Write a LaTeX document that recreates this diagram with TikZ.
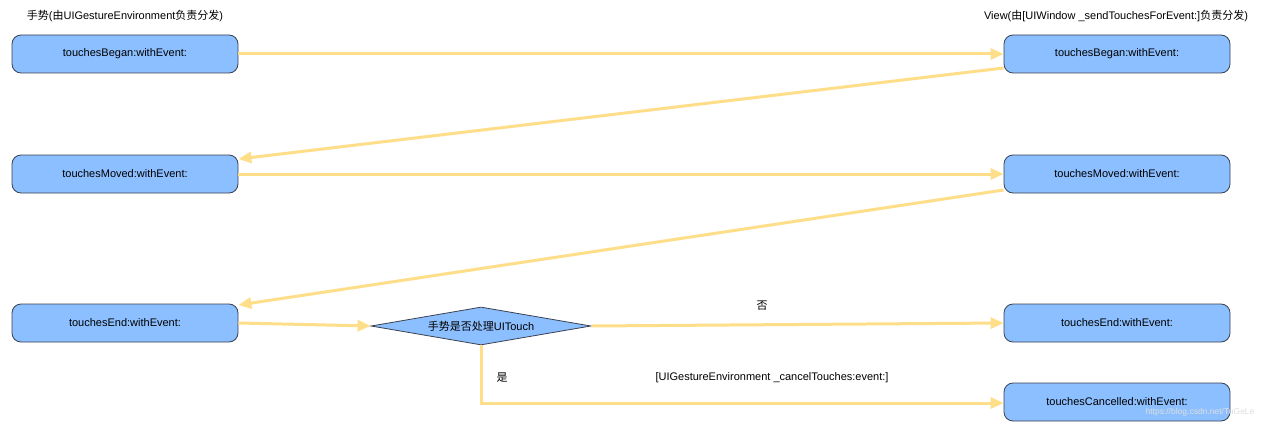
\documentclass[tikz,border=0pt]{standalone}
\usepackage{fontspec}
\setmainfont{Liberation Sans}
\newfontfamily\cjkf{Noto Sans CJK SC}
\newcommand\zh[1]{{\cjkf #1}}
\usetikzlibrary{arrows.meta,shapes.geometric}
\definecolor{boxfill}{HTML}{8CBFFF}
\definecolor{boxline}{HTML}{3A4150}
\definecolor{arr}{HTML}{FFDE8A}
\tikzset{
  box/.style={draw=boxline, line width=0.8pt, fill=boxfill, rounded corners=9pt,
    minimum width=226pt, minimum height=38pt, inner sep=0pt, font=\fontsize{11}{13}\selectfont},
  decide/.style={draw=boxline, line width=0.8pt, fill=boxfill, diamond, aspect=5.8,
    minimum width=220pt, minimum height=38pt, inner sep=0pt, font=\fontsize{11}{13}\selectfont},
  flow/.style={draw=arr, line width=3pt, -{Triangle[length=13pt,width=11pt]}},
  lbl/.style={font=\fontsize{11}{13}\selectfont, inner sep=0pt}
}
\begin{document}
\begin{tikzpicture}[x=1pt,y=-1pt]
\useasboundingbox (0,0) rectangle (1280,428);
\fill[white] (0,0) rectangle (1280,428);
\node[lbl] (t1) at (125,16) {\zh{手势}(\zh{由}UIGestureEnvironment\zh{负责分发})};
\node[lbl] (t2) at (1116,16) {View(\zh{由}[UIWindow \_sendTouchesForEvent:]\zh{负责分发})};

\node[box] (lb) at (125,54) {touchesBegan:withEvent:};
\node[box] (lm) at (125,174) {touchesMoved:withEvent:};
\node[box] (le) at (125,323) {touchesEnd:withEvent:};
\node[box] (rb) at (1117,54) {touchesBegan:withEvent:};
\node[box] (rm) at (1117,174) {touchesMoved:withEvent:};
\node[box] (re) at (1117,323) {touchesEnd:withEvent:};
\node[box] (rc) at (1117,402) {touchesCancelled:withEvent:};
\node[decide] (d) at (481,326) {\zh{手势是否处理}UITouch};

\coordinate (c1) at (481,403);

\draw[flow] (lb.east) -- (rb.west);
\draw[flow] (rb.west |- 0,68) -- (lm.east |- 0,159);
\draw[flow] (lm.east) -- (rm.west);
\draw[flow] (rm.west |- 0,190) -- (le.east |- 0,305);
\draw[flow] (le.east) -- (d.west);
\draw[flow] (d.east) -- (re.west);
\draw[flow] (d.south) -- (c1) -- (rc.west |- c1);

\node[lbl] (no) at (762,306) {\zh{否}};
\node[lbl] (yes) at (502,378) {\zh{是}};
\node[lbl] (cancel) at (772,378) {[UIGestureEnvironment \_cancelTouches:event:]};
\node[lbl, text=white!75!gray, font=\fontsize{8.5}{10}\selectfont] (wm) at (1200,412) {https://blog.csdn.net/TuGeLe};
\end{tikzpicture}
\end{document}
